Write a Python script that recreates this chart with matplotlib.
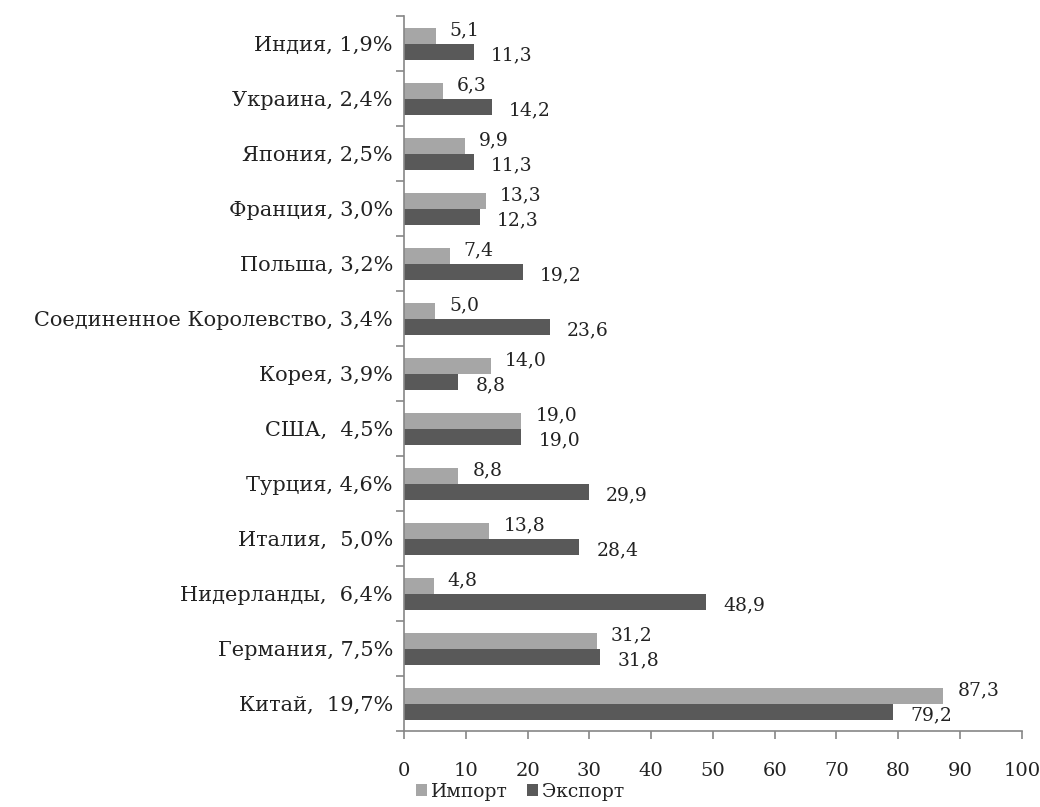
import matplotlib
matplotlib.use("Agg")
import matplotlib.pyplot as plt
import numpy as np

plt.rcParams['font.family'] = ['DejaVu Serif', 'Liberation Serif']

categories = ["Китай,  19,7%", "Германия, 7,5%", "Нидерланды,  6,4%", "Италия,  5,0%",
              "Турция, 4,6%", "США,  4,5%", "Корея, 3,9%", "Соединенное Королевство, 3,4%",
              "Польша, 3,2%", "Франция, 3,0%", "Япония, 2,5%", "Украина, 2,4%", "Индия, 1,9%"]
imports = [87.3, 31.2, 4.8, 13.8, 8.8, 19.0, 14.0, 5.0, 7.4, 13.3, 9.9, 6.3, 5.1]
exports = [79.2, 31.8, 48.9, 28.4, 29.9, 19.0, 8.8, 23.6, 19.2, 12.3, 11.3, 14.2, 11.3]
xticks = list(range(0, 101, 10))

fig = plt.figure(figsize=(10.4, 8.07), dpi=100)
ax = fig.add_axes([0.3885, 0.094, 0.594, 0.886])

y = np.arange(len(categories))
h = 0.29
c_imp = '#A6A6A6'
c_exp = '#595959'
ax.barh(y + h/2, imports, height=h, color=c_imp, label='Импорт')
ax.barh(y - h/2, exports, height=h, color=c_exp, label='Экспорт')

def fmt(v):
    return f"{v:.1f}".replace('.', ',')

FS = 15
XFS = 14
VFS = 13.5
TXT = '#222222'
for yi, vi, ve in zip(y, imports, exports):
    ax.annotate(fmt(vi), (vi, yi + h/2), xytext=(14, 5), textcoords='offset pixels',
                ha='left', va='center', fontsize=VFS, color=TXT)
    ax.annotate(fmt(ve), (ve, yi - h/2), xytext=(17, -4), textcoords='offset pixels',
                ha='left', va='center', fontsize=VFS, color=TXT)

ax.set_xlim(0, 100)
ax.set_ylim(-0.5, len(categories) - 0.5)
ax.set_xticks(xticks)
ax.set_xticklabels([str(t) for t in xticks], fontsize=XFS, color=TXT)
ax.set_yticks(y)
ax.set_yticklabels(categories, fontsize=FS, color=TXT)
ax.set_yticks(np.arange(-0.5, len(categories), 1.0), minor=True)
ax.tick_params(axis='y', which='major', length=0, pad=8)
ax.tick_params(axis='y', which='minor', length=6, color='#868686', width=1.2)
ax.tick_params(axis='x', which='major', length=6, color='#868686', width=1.2, pad=16)

for s in ['top', 'right']:
    ax.spines[s].set_visible(False)
for s in ['left', 'bottom']:
    ax.spines[s].set_color('#868686')
    ax.spines[s].set_linewidth(1.2)

leg = fig.legend(loc='center', bbox_to_anchor=(0.5, 1 - 792/807), ncol=2, frameon=False,
                 fontsize=VFS, handlelength=0.6, handleheight=0.6, handletextpad=0.2,
                 columnspacing=1.0)
for t in leg.get_texts():
    t.set_color(TXT)

fig.savefig('out.png', dpi=100, facecolor='white')
